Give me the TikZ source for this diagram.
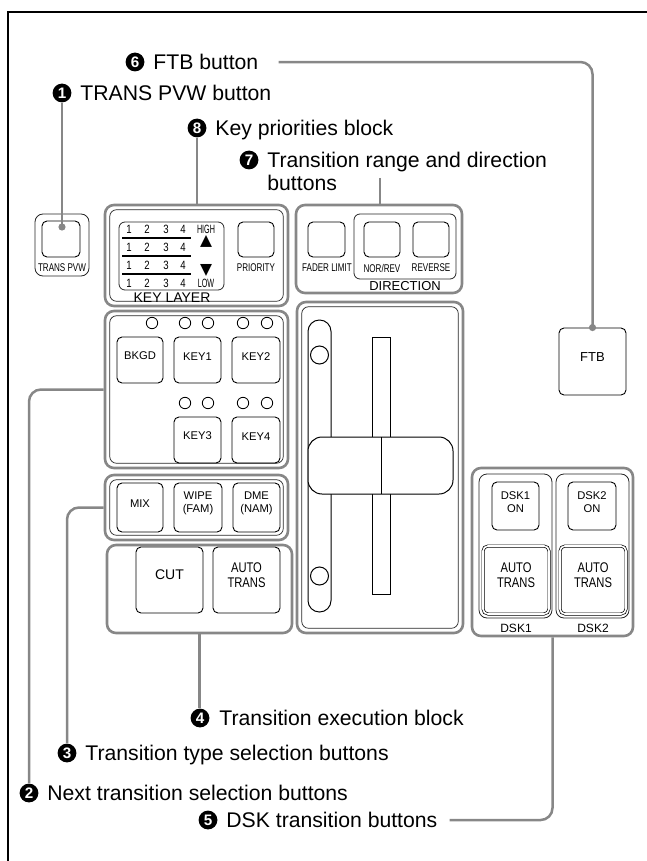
\documentclass[tikz,border=0pt]{standalone}
\usepackage{fontspec}
\setmainfont{Liberation Sans}
\newfontfamily\symbolfont{DejaVu Sans}
\usepackage{graphicx}
\usetikzlibrary{fit,positioning}
\definecolor{callgray}{RGB}{135,135,135}
\newcommand\narrowtext[2][0.72]{\scalebox{#1}[1]{#2}}
\tikzset{
  every node/.style={
    font=\fontsize{5.6}{6.4}\selectfont
  },
  num/.style={
    circle,
    fill=black,
    text=white,
    inner sep=0pt,
    minimum size=9.4pt,
    font=\bfseries\fontsize{7.6}{7.6}\selectfont
  },
  caption/.style={
    anchor=base west,
    inner sep=0pt,
    align=left,
    font=\fontsize{10.6}{11.5}\selectfont
  },
  calloutline/.style={
    draw=callgray,
    line width=1.25pt,
    rounded corners=6pt
  },
  calldot/.style={fill=callgray},
  block/.style={
    draw=callgray,
    line width=1.3pt,
    rounded corners=4.5pt,
    inner sep=0pt
  },
  innerframe/.style={
    draw=black!85,
    line width=0.35pt,
    rounded corners=3.5pt,
    inner sep=-3pt
  },
  thinframe/.style={
    draw=black!85,
    line width=0.4pt,
    rounded corners=3pt,
    inner sep=0pt
  },
  button/.style={
    draw=black,
    line width=0.45pt,
    rounded corners=2.5pt,
    inner sep=0pt,
    align=center
  },
  bigbutton/.style={
    button,
    font=\fontsize{7}{7.8}\selectfont
  },
  dblbutton/.style={
    bigbutton,
    double=white,
    double distance=0.8pt,
    line width=0.35pt
  },
  led/.style={draw=black, line width=0.4pt},
  keynum/.style={inner sep=0pt, font=\fontsize{6}{6}\selectfont},
  tag/.style={inner sep=0pt}
}

\begin{document}
\begin{tikzpicture}[x=0.5pt, y=-0.5pt]
\useasboundingbox (0,0) rectangle (647,861);
\draw[line width=1pt] (8,861) -- (8,12) -- (647,12);

% TRANS PVW
\node[thinframe, rounded corners=4pt, fit={(35,214) (89,276)}] (tpvwfrm) {};
\node[button, fit={(42,221) (80,257)}] (tpvw) {};
\node[tag] at (62,268) {\narrowtext{TRANS PVW}};

% key priorities block
\node[block, fit={(105,205) (288,306)}] (keyblk) {};
\node[innerframe, fit=(keyblk)] {};
\node[thinframe, fit={(119,222) (224,290)}] (keytab) {};
\foreach \y in {229,247,265,283}
  \foreach \x [count=\i] in {129,147,166,183}
    \node[keynum] at (\x,\y) {\narrowtext[0.8]{\i}};
\foreach \y in {238,256,274}
  \draw[line width=1pt] (122,\y) -- (191,\y);
\node[keynum] (high) at (206,229) {\narrowtext[0.6]{HIGH}};
\node[keynum] (low) at (206,283) {\narrowtext[0.6]{LOW}};
\node[tag, font=\symbolfont\fontsize{7.8}{7.8}\selectfont] (up) at (206,241) {▲};
\node[tag, font=\symbolfont\fontsize{7.8}{7.8}\selectfont] (down) at (206,270) {▼};
\node[button, fit={(238,222) (274,257)}] (prio) {};
\node[tag] at (256,268) {\narrowtext{PRIORITY}};
\node[tag, font=\fontsize{7}{7}\selectfont] at (172,298) {KEY LAYER};

% range and direction block
\node[block, fit={(296,205) (462,293)}] (dirblk) {};
\node[button, fit={(308,222) (345,257)}] (fader) {};
\node[tag] at (327,268) {\narrowtext{FADER LIMIT}};
\node[thinframe, fit={(354,214) (456,279)}] (dirfrm) {};
\node[button, fit={(364,222) (400,257)}] (norrev) {};
\node[button, fit={(413,222) (449,257)}] (reverse) {};
\node[tag] at (382,268) {\narrowtext{NOR/REV}};
\node[tag] at (431,268) {\narrowtext{REVERSE}};
\node[tag, font=\fontsize{6.5}{6.5}\selectfont] at (405,286) {DIRECTION};

% next transition block
\node[block, fit={(105,311) (288,468)}] (nextblk) {};
\node[innerframe, fit=(nextblk)] {};
\foreach \x in {152,185,208,243,267}
  \draw[led] (\x,323) circle (2.85pt);
\foreach \x in {185,208,243,267}
  \draw[led] (\x,403) circle (2.85pt);
\node[button, fit={(117,337) (163,383)}] (bkgd) {BKGD};
\node[button, fit={(174,337) (221,383)}] (key1) {KEY1};
\node[button, fit={(232,337) (280,383)}] (key2) {KEY2};
\node[button, fit={(174,417) (221,463)}] (key3) {KEY3};
\node[button, fit={(232,417) (280,463)}] (key4) {KEY4};

% transition type block
\node[block, fit={(105,475) (288,540)}] (typeblk) {};
\node[innerframe, fit=(typeblk)] {};
\node[button, fit={(117,483) (163,532)}] (mix) {MIX};
\node[button, fit={(174,483) (222,532)}] (wipe) {WIPE\\(FAM)};
\node[button, fit={(233,483) (280,532)}] (dme) {DME\\(NAM)};

% execution block
\node[block, fit={(107,545) (292,633)}] (cutblk) {};
\node[bigbutton, fit={(136,547) (203,613)}] (cut) {CUT};
\node[bigbutton, fit={(213,547) (280,613)}] (auto) {\narrowtext[0.8]{AUTO}\\\narrowtext[0.8]{TRANS}};

% fader lever
\node[block, fit={(297,302) (463,633)}] (faderblk) {};
\node[innerframe, fit=(faderblk)] {};
\draw[line width=0.5pt, rounded corners=5.7pt] (308,320) rectangle (331,612);
\draw[line width=0.5pt] (319.5,355) circle (4.5pt) (319.5,576) circle (4.5pt);
\draw[line width=0.5pt] (372,337) rectangle (390,594);
\draw[line width=0.5pt, fill=white, rounded corners=7pt] (308,437) rectangle (453,494);
\draw[line width=0.5pt] (381,437) -- (381,494);

% FTB
\node[button, font=\fontsize{6.5}{6.5}\selectfont, fit={(559,328) (626,395)}] (ftb) {FTB};

% DSK block
\node[block, fit={(472,468) (633,636)}] (dskblk) {};
\node[thinframe, rounded corners=4pt, fit={(479,474) (552,618)}] (dsk1frm) {};
\node[thinframe, rounded corners=4pt, fit={(556,474) (629,618)}] (dsk2frm) {};
\node[button, fit={(492,482) (539,530)}] (dsk1on) {DSK1\\ON};
\node[button, fit={(568,482) (616,530)}] (dsk2on) {DSK2\\ON};
\node[dblbutton, fit={(483,546) (549,614)}] (dsk1auto) {\narrowtext[0.8]{AUTO}\\\narrowtext[0.8]{TRANS}};
\node[dblbutton, fit={(560,546) (626,614)}] (dsk2auto) {\narrowtext[0.8]{AUTO}\\\narrowtext[0.8]{TRANS}};
\node[tag, font=\fontsize{6}{6}\selectfont] at (516,628) {DSK1};
\node[tag, font=\fontsize{6}{6}\selectfont] at (593,628) {DSK2};

% callouts
\node[num] (n6) at (135,62) {6};
\node[caption] (t6) at (153,69.6) {FTB button};
\node[num] (n1) at (62,93) {1};
\node[caption] (t1) at (80,100.6) {TRANS PVW button};
\node[num] (n8) at (197,128) {8};
\node[caption] (t8) at (215,135.6) {Key priorities block};
\node[num] (n7) at (249,160) {7};
\node[caption, anchor=north west] (t7) at (267,152) {Transition range and direction\\buttons};
\node[num] (n4) at (200,718) {4};
\node[caption] (t4) at (219,725.6) {Transition execution block};
\node[num] (n3) at (67,753) {3};
\node[caption] (t3) at (85,760.6) {Transition type selection buttons};
\node[num] (n2) at (29,793) {2};
\node[caption] (t2) at (47,800.6) {Next transition selection buttons};
\node[num] (n5) at (208,820) {5};
\node[caption] (t5) at (226,827.6) {DSK transition buttons};

\coordinate (d1) at (62,227);
\coordinate (c7) at (380,178);
\draw[calloutline] ([xshift=10pt]t6.east) -| (ftb.north);
\fill[calldot] (ftb.north) circle (1.8pt);
\draw[calloutline] (n1.south) -- (d1);
\fill[calldot] (d1) circle (1.8pt);
\draw[calloutline] (n8.south) -- (n8.south |- keyblk.north);
\draw[calloutline] (c7) -- (c7 |- dirblk.north);
\draw[calloutline] (cutblk.south) -- (cutblk.south |- n4.north);
\draw[calloutline] (typeblk.west) -| (n3.north);
\draw[calloutline] (nextblk.west) -| (n2.north);
\draw[calloutline] (dskblk.south) |- ([xshift=6pt]t5.east);

\end{tikzpicture}
\end{document}
